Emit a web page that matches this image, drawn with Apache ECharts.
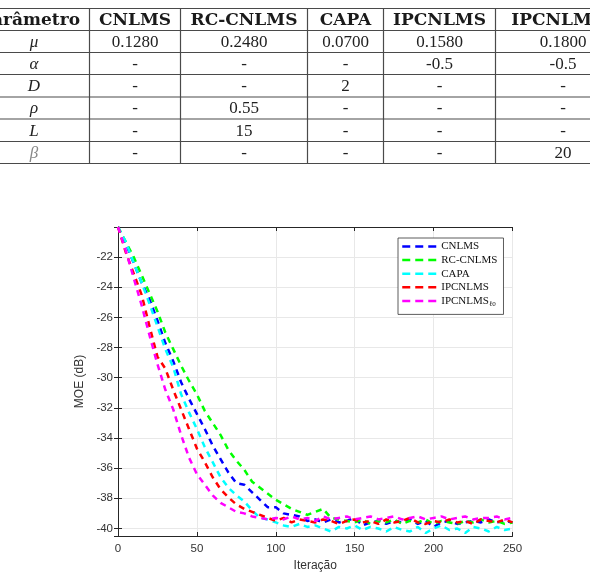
<!DOCTYPE html>
<html>
<head>
<meta charset="utf-8">
<script src="https://cdn.jsdelivr.net/npm/echarts@6/dist/echarts.min.js"></script>
<style>
html, body { margin: 0; padding: 0; background: #fff; }
#chart { width: 590px; height: 577px; }
</style>
</head>
<body>
<div id="chart"></div>
<script>
// iteracoes amostradas (eixo x)
var iteracoes = [0, 5, 10, 15, 20, 25, 30, 35, 40, 45, 50, 55, 60, 65, 70, 75, 80, 85, 90, 95,
	100, 105, 110, 115, 120, 125, 130, 135, 140, 145, 150, 155, 160, 165, 170, 175, 180, 185, 190, 195,
	200, 205, 210, 215, 220, 225, 230, 235, 240, 245, 250];

// MOE (dB) de cada algoritmo
var moeCNLMS = [-20.0, -21.1, -22.4, -23.7, -24.8, -26.2, -27.7, -28.9, -30.3, -31.4,
	-32.4, -33.4, -34.5, -35.4, -36.3, -37.0, -37.1, -37.6, -38.1, -38.6,
	-38.6, -39.0, -39.1, -39.2, -39.5, -39.4, -39.6, -39.4, -39.6, -39.5,
	-39.3, -39.8, -39.6, -39.5, -39.7, -39.5, -39.6, -39.4, -39.7, -39.5,
	-39.9, -39.6, -39.5, -39.7, -39.6, -39.5, -39.6, -39.4, -39.6, -39.5, -39.6];
var moeRCCNLMS = [-20.0, -21.0, -22.0, -23.2, -24.4, -25.6, -27.0, -28.1, -29.2, -30.2,
	-31.1, -32.2, -33.0, -33.8, -34.8, -35.5, -36.1, -36.9, -37.3, -37.7,
	-38.1, -38.4, -38.7, -38.9, -39.1, -38.9, -38.7, -39.3, -39.4, -39.5,
	-39.6, -39.4, -39.7, -39.5, -39.6, -39.4, -39.7, -39.5, -39.6, -39.4,
	-39.7, -39.5, -39.6, -39.7, -39.5, -39.6, -39.4, -39.6, -39.5, -39.7, -39.6];
var moeCAPA = [-20.0, -21.0, -22.4, -23.7, -25.1, -26.6, -28.1, -29.3, -31.1, -32.3,
	-33.4, -34.6, -35.6, -36.6, -37.3, -37.8, -38.2, -38.8, -39.3, -39.4,
	-39.6, -39.8, -39.9, -39.7, -39.9, -39.8, -40.0, -40.2, -39.9, -40.0,
	-39.8, -40.1, -39.9, -40.0, -40.2, -39.9, -40.1, -40.2, -39.9, -40.3,
	-40.0, -39.8, -40.1, -40.0, -40.3, -39.9, -40.0, -40.2, -39.9, -40.1, -40.0];
var moeIPCNLMS = [-20.0, -21.7, -23.1, -24.5, -26.6, -28.6, -29.4, -30.8, -32.1, -33.4,
	-34.7, -35.6, -36.6, -37.4, -37.95, -38.4, -38.7, -38.9, -39.1, -39.3,
	-39.5, -39.3, -39.6, -39.4, -39.5, -39.6, -39.4, -39.5, -39.7, -39.5,
	-39.4, -39.6, -39.5, -39.7, -39.4, -39.6, -39.5, -39.3, -39.6, -39.7,
	-39.5, -39.6, -39.4, -39.6, -39.5, -39.7, -39.4, -39.5, -39.6, -39.4, -39.6];
var moeIPCNLMSl0 = [-20.0, -21.6, -23.4, -25.2, -27.2, -29.1, -30.8, -32.1, -33.8, -35.3,
	-36.4, -37.1, -37.8, -38.3, -38.6, -38.9, -39.0, -39.2, -39.3, -39.4,
	-39.3, -39.4, -39.2, -39.4, -39.3, -39.5, -39.2, -39.4, -39.3, -39.2,
	-39.4, -39.3, -39.2, -39.4, -39.3, -39.2, -39.4, -39.3, -39.2, -39.4,
	-39.3, -39.2, -39.4, -39.3, -39.2, -39.4, -39.3, -39.3, -39.2, -39.4, -39.3];

var nomesSeries = ['CNLMS', 'RC-CNLMS', 'CAPA', 'IPCNLMS', 'IPCNLMSl0'];
var coresSeries = ['#0000ff', '#00ff00', '#00ffff', '#ff0000', '#ff00ff'];
var dadosSeries = [moeCNLMS, moeRCCNLMS, moeCAPA, moeIPCNLMS, moeIPCNLMSl0];

// tabela de parametros
var tabCabecalho = ['Parâmetro', 'CNLMS', 'RC-CNLMS', 'CAPA', 'IPCNLMS', 'IPCNLMS{s|ℓ0}'];
var tabParametros = ['μ', 'α', 'D', 'ρ', 'L', 'β'];
var tabCNLMS = ['0.1280', '-', '-', '-', '-', '-'];
var tabRCCNLMS = ['0.2480', '-', '-', '0.55', '15', '-'];
var tabCAPA = ['0.0700', '-', '2', '-', '-', '-'];
var tabIPCNLMS = ['0.1580', '-0.5', '-', '-', '-', '-'];
var tabIPCNLMSl0 = ['0.1800', '-0.5', '-', '-', '-', '20'];

var colCentros = [34, 135, 244, 345.5, 439.5, 563];
var colLinhas = [89.5, 180.5, 307.5, 383.5, 495.5];
var linLinhas = [8.5, 30.5, 52.5, 74.5, 97, 119, 141.5, 163.5];

var byId = function(id) {
	return document.getElementById(id);
};

var montaTabela = function() {
	var els = [];
	var corLinha = '#4a4a4a';
	linLinhas.forEach(function(y) {
		els.push({ type: 'line', shape: { x1: 0, y1: y, x2: 590, y2: y }, style: { stroke: corLinha, lineWidth: 1.2 } });
	});
	colLinhas.forEach(function(x) {
		els.push({ type: 'line', shape: { x1: x, y1: linLinhas[0], x2: x, y2: linLinhas[linLinhas.length - 1] }, style: { stroke: corLinha, lineWidth: 1.2 } });
	});
	var yCab = (linLinhas[0] + linLinhas[1]) / 2;
	tabCabecalho.forEach(function(t, i) {
		els.push({
			type: 'text',
			style: {
				text: t,
				x: i == 0 ? 80 : colCentros[i],
				y: yCab + 1,
				align: i == 0 ? 'right' : 'center',
				verticalAlign: 'middle',
				font: 'bold 17px "DejaVu Serif"',
				fill: '#1a1a1a',
				rich: { s: { font: 'bold 10px "DejaVu Serif"', fill: '#1a1a1a', padding: [9, 0, 0, 0] } }
			}
		});
	});
	var colunas = [tabParametros, tabCNLMS, tabRCCNLMS, tabCAPA, tabIPCNLMS, tabIPCNLMSl0];
	colunas.forEach(function(col, i) {
		col.forEach(function(t, j) {
			var yc = (linLinhas[j + 1] + linLinhas[j + 2]) / 2;
			els.push({
				type: 'text',
				style: {
					text: t,
					x: colCentros[i],
					y: yc + 1,
					align: 'center',
					verticalAlign: 'middle',
					font: (i == 0 ? 'italic ' : '') + '17px "Liberation Serif", "DejaVu Serif"',
					fill: (i == 0 && t == 'β') ? '#888' : '#222'
				}
			});
		});
	});
	return els;
};

var eixoFonte = { fontFamily: 'Liberation Sans', fontSize: 11.5, color: '#333' };

var option = {
	animation: false,
	backgroundColor: '#fff',
	graphic: montaTabela(),
	grid: {
		left: 118,
		right: 77.5,
		top: 227,
		bottom: 37,
		containLabel: false
	},
	legend: {
		orient: 'vertical',
		left: 398,
		top: 238,
		padding: [3, 6, 7, 3],
		itemWidth: 34,
		itemHeight: 10,
		itemGap: 2.6,
		backgroundColor: '#fff',
		borderColor: '#333',
		borderWidth: 0.8,
		borderRadius: 0,
		itemStyle: { opacity: 0 },
		lineStyle: { type: [8, 5], width: 2.5 },
		data: nomesSeries,
		formatter: function(name) {
			return name == 'IPCNLMSl0' ? 'IPCNLMS{s|ℓ0}' : name;
		},
		textStyle: {
			fontFamily: 'Liberation Serif',
			fontSize: 11,
			color: '#111',
			rich: { s: { fontFamily: 'Liberation Serif', fontSize: 7, color: '#111', padding: [6, 0, 0, 0] } }
		}
	},
	xAxis: [{
		type: 'value',
		min: 0,
		max: 250,
		interval: 50,
		name: 'Iteração',
		nameLocation: 'middle',
		nameGap: 24,
		nameTextStyle: { fontFamily: 'Liberation Sans', fontSize: 12, color: '#333' },
		axisLine: { lineStyle: { color: '#262626', width: 1 } },
		axisTick: { inside: true, length: 4, lineStyle: { color: '#262626' } },
		axisLabel: { margin: 7, fontFamily: eixoFonte.fontFamily, fontSize: eixoFonte.fontSize, color: eixoFonte.color },
		splitLine: { show: true, lineStyle: { color: '#e8e8e8', width: 1 } }
	}, {
		type: 'value',
		position: 'top',
		min: 0,
		max: 250,
		interval: 50,
		axisLine: { lineStyle: { color: '#262626', width: 1 } },
		axisTick: { inside: true, length: 4, lineStyle: { color: '#262626' } },
		axisLabel: { show: false },
		splitLine: { show: false }
	}],
	yAxis: [{
		type: 'value',
		min: -40.5,
		max: -20,
		minInterval: 2,
		maxInterval: 2,
		name: 'MOE (dB)',
		nameLocation: 'middle',
		nameGap: 27,
		nameTextStyle: { fontFamily: 'Liberation Sans', fontSize: 12, color: '#333' },
		axisLine: { show: true, lineStyle: { color: '#262626', width: 1 } },
		axisTick: { show: true, inside: true, length: 4, lineStyle: { color: '#262626' } },
		axisLabel: {
			margin: 5,
			fontFamily: eixoFonte.fontFamily,
			fontSize: eixoFonte.fontSize,
			color: eixoFonte.color,
			formatter: function(v) {
				return (Math.round(v) == v && v != -20) ? String(v) : '';
			}
		},
		splitLine: { show: true, lineStyle: { color: '#e8e8e8', width: 1 } }
	}, {
		type: 'value',
		position: 'right',
		min: -40.5,
		max: -20,
		minInterval: 2,
		maxInterval: 2,
		axisLine: { show: true, lineStyle: { color: '#262626', width: 1 } },
		axisTick: { show: true, inside: true, length: 4, lineStyle: { color: '#262626' } },
		axisLabel: { show: false },
		splitLine: { show: false }
	}],
	series: nomesSeries.map(function(nome, i) {
		return {
			name: nome,
			type: 'line',
			xAxisIndex: 0,
			yAxisIndex: 0,
			symbol: 'none',
			color: coresSeries[i],
			lineStyle: { color: coresSeries[i], width: 2.5, type: [6, 5] },
			data: iteracoes.map(function(it, k) {
				return [it, dadosSeries[i][k]];
			})
		};
	})
};

var grafico = echarts.init(byId('chart'));
grafico.setOption(option);
</script>
</body>
</html>
